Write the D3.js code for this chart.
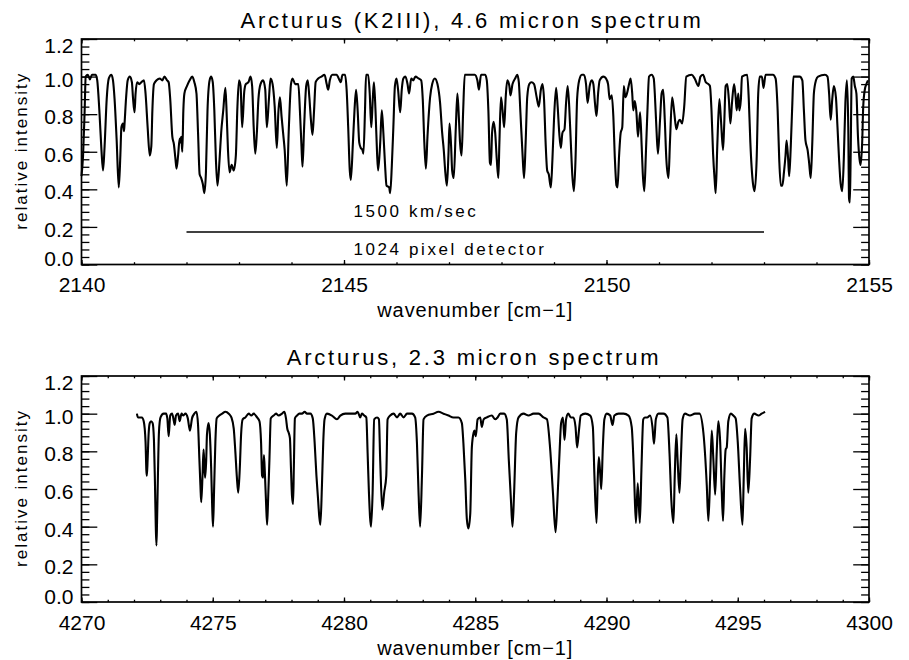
<!DOCTYPE html>
<html lang="en">
<head>
    <meta charset="UTF-8">
    <title>Arcturus spectra</title>
    <script src="https://d3js.org/d3.v7.min.js"></script>
    <style>
        body { margin: 0; background: #fff; }
        svg text { font-family: "Liberation Sans", Arial, sans-serif; fill: #000; }
    </style>
</head>
<body>
<div id="chart-container"></div>

<script>
// 4.6 micron spectrum
const topWave = [
  2140.00,2140.03,2140.06,2140.08,2140.12,2140.16,2140.20,2140.27,2140.30,2140.34,2140.38,2140.41,2140.44,2140.48,2140.52,2140.57,2140.60,2140.63,2140.67,2140.71,
  2140.74,2140.76,2140.79,2140.81,2140.82,2140.85,2140.88,2140.92,2140.96,2140.98,2141.01,2141.03,2141.06,2141.10,2141.14,2141.19,2141.22,2141.26,2141.30,2141.33,
  2141.35,2141.38,2141.43,2141.49,2141.54,2141.58,2141.63,2141.66,2141.69,2141.73,2141.76,2141.79,2141.81,2141.84,2141.87,2141.88,2141.90,2141.92,2141.94,2141.96,
  2142.01,2142.06,2142.11,2142.15,2142.19,2142.22,2142.25,2142.28,2142.31,2142.34,2142.37,2142.40,2142.44,2142.47,2142.50,2142.53,2142.56,2142.59,2142.63,2142.66,
  2142.70,2142.74,2142.76,2142.79,2142.82,2142.86,2142.90,2142.94,2142.97,2143.00,2143.03,2143.06,2143.10,2143.13,2143.18,2143.22,2143.25,2143.28,2143.31,2143.34,
  2143.37,2143.41,2143.46,2143.50,2143.53,2143.57,2143.60,2143.64,2143.68,2143.72,2143.75,2143.78,2143.81,2143.84,2143.87,2143.91,2143.95,2143.99,2144.02,2144.07,
  2144.10,2144.13,2144.16,2144.19,2144.21,2144.24,2144.28,2144.31,2144.34,2144.37,2144.40,2144.43,2144.46,2144.51,2144.57,2144.63,2144.67,2144.70,2144.73,2144.78,
  2144.86,2144.90,2144.94,2144.97,2145.02,2145.05,2145.08,2145.11,2145.13,2145.17,2145.20,2145.23,2145.26,2145.29,2145.32,2145.35,2145.37,2145.40,2145.42,2145.46,
  2145.49,2145.52,2145.55,2145.57,2145.60,2145.63,2145.65,2145.69,2145.72,2145.75,2145.78,2145.81,2145.86,2145.88,2145.91,2145.94,2145.97,2146.00,2146.03,2146.07,
  2146.10,2146.13,2146.17,2146.21,2146.24,2146.28,2146.32,2146.36,2146.42,2146.47,2146.50,2146.53,2146.56,2146.59,2146.64,2146.68,2146.73,2146.78,2146.83,2146.87,
  2146.90,2146.93,2146.96,2146.99,2147.01,2147.04,2147.06,2147.09,2147.13,2147.16,2147.19,2147.21,2147.24,2147.27,2147.30,2147.40,2147.49,2147.54,2147.57,2147.61,
  2147.69,2147.72,2147.75,2147.78,2147.80,2147.82,2147.85,2147.88,2147.91,2147.94,2147.96,2147.99,2148.02,2148.05,2148.08,2148.11,2148.15,2148.17,2148.21,2148.26,
  2148.30,2148.33,2148.36,2148.40,2148.43,2148.46,2148.49,2148.53,2148.57,2148.62,2148.67,2148.71,2148.75,2148.78,2148.81,2148.84,2148.87,2148.90,2148.94,2148.97,
  2149.00,2149.04,2149.07,2149.10,2149.13,2149.16,2149.20,2149.23,2149.26,2149.29,2149.32,2149.35,2149.38,2149.41,2149.44,2149.48,2149.53,2149.57,2149.61,2149.64,
  2149.68,2149.72,2149.75,2149.78,2149.81,2149.84,2149.87,2149.94,2149.99,2150.03,2150.06,2150.10,2150.13,2150.16,2150.19,2150.21,2150.24,2150.27,2150.30,2150.33,
  2150.36,2150.39,2150.43,2150.46,2150.49,2150.51,2150.54,2150.57,2150.60,2150.64,2150.67,2150.69,2150.72,2150.75,2150.78,2150.81,2150.86,2150.90,2150.92,2150.95,
  2150.98,2151.02,2151.05,2151.08,2151.11,2151.14,2151.18,2151.21,2151.25,2151.29,2151.33,2151.37,2151.40,2151.44,2151.48,2151.52,2151.62,2151.68,2151.75,2151.79,
  2151.84,2151.89,2151.94,2151.97,2152.00,2152.03,2152.06,2152.08,2152.11,2152.15,2152.18,2152.22,2152.24,2152.27,2152.30,2152.33,2152.36,2152.39,2152.43,2152.46,
  2152.48,2152.51,2152.53,2152.56,2152.58,2152.68,2152.71,2152.74,2152.79,2152.82,2152.86,2152.89,2152.92,2152.96,2152.99,2153.03,2153.17,2153.22,2153.26,2153.29,
  2153.32,2153.35,2153.38,2153.41,2153.43,2153.46,2153.48,2153.51,2153.54,2153.56,2153.68,2153.73,2153.76,2153.79,2153.83,2153.86,2153.89,2153.92,2153.95,2153.99,
  2154.03,2154.16,2154.21,2154.24,2154.27,2154.30,2154.33,2154.37,2154.40,2154.43,2154.46,2154.49,2154.52,2154.55,2154.58,2154.605,2154.62,2154.635,2154.65,2154.67,
  2154.70,2154.73,2154.76,2154.79,2154.82,2154.84,2154.87,2154.89,2154.92,2154.95,2154.98
];
const topFlux = [
  0.47,0.58,0.82,1.00,1.01,0.985,1.01,1.01,0.98,0.82,0.61,0.50,0.63,0.88,0.99,1.01,0.98,0.88,0.66,0.41,
  0.58,0.73,0.75,0.71,0.75,0.89,0.98,1.00,0.97,0.89,0.81,0.91,0.97,0.96,0.97,0.98,0.91,0.73,0.58,0.63,
  0.82,0.96,0.98,0.99,0.98,1.00,0.98,0.97,0.88,0.68,0.64,0.56,0.51,0.58,0.67,0.65,0.68,0.60,0.82,0.91,
  0.95,0.98,1.00,0.97,0.91,0.70,0.48,0.46,0.43,0.38,0.49,0.82,0.98,1.00,0.97,0.82,0.56,0.42,0.56,0.70,
  0.82,0.94,0.84,0.61,0.49,0.53,0.50,0.58,0.84,0.98,0.95,0.73,0.92,0.96,0.97,1.00,0.95,0.73,0.59,0.70,
  0.88,0.96,0.98,0.93,0.73,0.88,0.99,0.96,0.84,0.62,0.81,0.89,0.79,0.70,0.61,0.42,0.73,0.96,0.99,0.96,
  0.96,0.96,0.82,0.63,0.52,0.73,0.95,0.98,0.89,0.77,0.69,0.82,0.97,0.99,1.00,1.01,0.96,0.93,0.98,1.01,
  1.01,0.99,0.97,1.01,1.01,0.93,0.73,0.50,0.45,0.65,0.82,0.93,0.82,0.65,0.62,0.61,0.59,0.82,1.01,1.01,
  0.91,0.73,0.89,0.97,0.82,0.59,0.50,0.65,0.82,0.70,0.54,0.42,0.41,0.38,0.52,0.73,0.95,0.99,0.93,0.81,
  0.93,0.99,1.00,0.96,0.91,0.99,0.98,1.00,0.99,0.98,0.88,0.65,0.51,0.68,0.89,0.96,0.99,0.96,0.86,0.70,
  0.61,0.49,0.42,0.59,0.75,0.63,0.50,0.46,0.73,0.91,0.77,0.65,0.58,0.82,1.01,1.01,1.01,0.98,0.93,1.01,
  1.01,0.98,0.82,0.54,0.53,0.70,0.76,0.70,0.56,0.46,0.65,0.89,0.82,0.73,0.89,0.98,0.95,0.90,0.96,0.99,
  1.01,0.97,0.81,0.59,0.46,0.65,0.89,0.96,0.97,0.96,0.89,0.84,0.93,0.96,0.88,0.65,0.50,0.48,0.41,0.56,
  0.77,0.94,0.84,0.70,0.62,0.70,0.72,0.86,0.95,0.84,0.65,0.47,0.39,0.56,0.88,0.98,1.01,1.01,0.96,0.86,
  0.95,0.98,0.96,0.86,0.79,0.91,0.98,1.00,0.99,0.96,0.88,0.90,0.79,0.56,0.42,0.41,0.58,0.70,0.73,0.95,
  0.89,0.91,0.96,0.99,0.91,0.82,0.87,0.81,0.68,0.81,0.63,0.49,0.39,0.59,0.82,1.00,1.01,0.99,0.91,0.73,
  0.59,0.77,0.91,0.93,0.77,0.56,0.46,0.66,0.89,0.81,0.72,0.76,0.77,0.75,0.84,1.00,1.01,0.99,0.95,1.00,
  1.01,0.97,0.96,0.95,0.82,0.59,0.45,0.38,0.63,0.88,0.77,0.61,0.73,0.95,0.96,0.88,0.75,0.86,0.96,0.89,
  0.82,0.91,0.82,0.88,1.00,1.01,0.88,0.65,0.43,0.39,0.56,0.91,1.00,1.00,0.94,1.01,1.01,0.99,0.82,0.56,
  0.42,0.42,0.49,0.58,0.66,0.56,0.47,0.63,0.86,1.00,1.00,0.98,0.82,0.66,0.61,0.54,0.46,0.65,0.91,0.98,
  1.00,1.01,1.00,0.91,0.77,0.88,0.95,0.89,0.73,0.56,0.43,0.39,0.56,0.86,0.98,0.73,0.35,0.33,0.56,0.99,
  1.00,0.95,0.91,0.68,0.56,0.53,0.65,0.84,0.93,0.96,0.98
];

// 2.3 micron spectrum
const bottomWave = [
  4272.11,4272.15,4272.22,4272.30,4272.37,4272.44,4272.47,4272.49,4272.52,4272.56,4272.60,4272.65,4272.71,4272.76,4272.80,4272.83,4272.855,4272.88,4272.91,4272.95,
  4273.01,4273.13,4273.22,4273.27,4273.32,4273.38,4273.45,4273.52,4273.55,4273.60,4273.68,4273.74,4273.81,4273.87,4273.96,4274.05,4274.13,4274.21,4274.30,4274.38,
  4274.44,4274.49,4274.53,4274.56,4274.61,4274.65,4274.68,4274.71,4274.75,4274.78,4274.84,4274.89,4274.94,4274.98,4275.01,4275.05,4275.10,4275.15,4275.25,4275.36,
  4275.48,4275.61,4275.71,4275.80,4275.86,4275.92,4275.97,4276.03,4276.08,4276.14,4276.24,4276.37,4276.47,4276.56,4276.69,4276.78,4276.84,4276.88,4276.92,4276.95,
  4276.99,4277.03,4277.07,4277.11,4277.16,4277.21,4277.32,4277.41,4277.51,4277.64,4277.73,4277.79,4277.84,4277.89,4277.94,4277.98,4278.02,4278.06,4278.09,4278.13,
  4278.21,4278.30,4278.40,4278.50,4278.59,4278.72,4278.81,4278.88,4278.95,4279.01,4279.06,4279.10,4279.16,4279.21,4279.26,4279.35,4279.54,4279.73,4279.86,4280.05,
  4280.24,4280.43,4280.52,4280.62,4280.68,4280.77,4280.85,4280.90,4280.95,4281.03,4281.09,4281.15,4281.26,4281.33,4281.38,4281.46,4281.53,4281.61,4281.66,4281.76,
  4281.89,4282.02,4282.14,4282.27,4282.40,4282.59,4282.71,4282.78,4282.84,4282.90,4282.97,4283.03,4283.16,4283.41,4283.60,4283.79,4283.98,4284.17,4284.36,4284.49,
  4284.55,4284.62,4284.68,4284.74,4284.81,4284.87,4284.94,4284.97,4285.02,4285.09,4285.19,4285.25,4285.32,4285.44,4285.63,4285.76,4285.85,4285.95,4286.10,4286.20,
  4286.28,4286.36,4286.42,4286.48,4286.56,4286.65,4286.84,4287.03,4287.22,4287.41,4287.60,4287.73,4287.85,4287.96,4288.06,4288.13,4288.21,4288.27,4288.34,4288.40,
  4288.46,4288.54,4288.64,4288.74,4288.82,4288.88,4288.95,4289.02,4289.19,4289.38,4289.48,4289.54,4289.62,4289.67,4289.71,4289.76,4289.80,4289.86,4289.92,4290.01,
  4290.14,4290.23,4290.30,4290.46,4290.65,4290.84,4290.96,4291.05,4291.12,4291.19,4291.27,4291.33,4291.40,4291.46,4291.55,4291.66,4291.75,4291.81,4291.88,4291.98,
  4292.17,4292.32,4292.40,4292.47,4292.55,4292.60,4292.66,4292.71,4292.78,4292.83,4292.90,4292.99,4293.18,4293.37,4293.54,4293.69,4293.82,4293.88,4293.95,4294.01,
  4294.07,4294.14,4294.20,4294.26,4294.33,4294.39,4294.44,4294.49,4294.54,4294.58,4294.64,4294.74,4294.83,4294.92,4295.00,4295.09,4295.18,4295.23,4295.28,4295.34,
  4295.40,4295.47,4295.53,4295.63,4295.79,4295.91,4296.04
];
const bottomFlux = [
  1.00,0.98,0.98,0.98,0.96,0.85,0.70,0.67,0.76,0.90,0.95,0.96,0.95,0.86,0.62,0.40,0.30,0.44,0.66,0.90,
  0.98,1.00,1.00,0.975,0.88,0.99,1.00,0.96,0.94,0.99,1.00,0.96,1.00,0.99,1.00,0.975,0.91,0.975,1.00,1.01,
  0.94,0.76,0.62,0.53,0.67,0.81,0.73,0.66,0.75,0.89,0.95,0.89,0.71,0.50,0.40,0.59,0.85,0.975,0.99,1.00,
  1.01,1.00,0.98,0.92,0.80,0.66,0.58,0.71,0.89,0.97,0.98,1.00,0.99,1.00,0.98,0.96,0.85,0.67,0.66,0.78,
  0.67,0.53,0.41,0.55,0.76,0.975,0.99,1.00,0.99,1.00,1.01,0.975,0.92,0.90,0.87,0.71,0.56,0.52,0.72,0.975,
  0.99,1.00,1.00,1.01,1.00,1.00,0.975,0.85,0.67,0.55,0.45,0.41,0.62,0.85,0.97,1.00,0.99,0.97,0.99,1.00,
  1.00,1.00,1.01,0.98,1.00,0.99,0.98,0.79,0.58,0.40,0.58,0.97,0.98,0.97,0.75,0.49,0.58,0.67,0.97,0.99,
  1.00,0.98,1.00,0.98,1.00,1.00,0.98,0.84,0.58,0.40,0.67,0.97,0.99,1.00,1.01,1.00,0.99,0.98,0.98,0.95,
  0.84,0.65,0.44,0.39,0.47,0.82,0.90,0.91,0.88,0.97,0.98,0.93,0.97,0.98,0.99,0.97,0.98,1.00,1.00,0.97,
  0.75,0.54,0.40,0.58,0.90,0.98,1.00,0.99,1.00,1.00,0.98,0.97,0.82,0.58,0.37,0.54,0.79,0.95,0.98,0.86,
  0.97,1.00,0.98,0.98,0.93,0.82,0.91,0.99,1.00,0.99,0.93,0.67,0.42,0.67,0.77,0.68,0.60,0.82,0.97,1.00,
  0.99,0.94,0.99,1.00,1.00,0.99,0.93,0.67,0.42,0.63,0.42,0.70,0.97,0.98,0.98,0.99,0.93,0.84,0.97,1.00,
  1.00,0.98,0.79,0.54,0.42,0.67,0.89,0.75,0.58,0.75,0.97,1.00,0.99,1.00,1.00,0.90,0.62,0.43,0.67,0.91,
  0.76,0.57,0.80,0.96,0.85,0.59,0.43,0.67,0.81,0.82,0.96,1.00,0.99,0.975,0.85,0.60,0.41,0.67,0.92,0.82,
  0.58,0.76,0.975,1.00,0.99,1.00,1.01
];

const topTicks = [2140, 2145, 2150, 2155];
const bottomTicks = [4270, 4275, 4280, 4285, 4290, 4295, 4300];
const yTicks = [0.0, 0.2, 0.4, 0.6, 0.8, 1.0, 1.2];

const width = 909;
const height = 660;
const left = 81.5, right = 869;

const svg = d3.select('#chart-container')
    .append('svg')
    .attr('width', width)
    .attr('height', height);

function drawPanel(p) {
    const x = d3.scaleLinear().domain(p.xDomain).range([left, right]);
    const y = d3.scaleLinear().domain([0, 1.2]).range([p.bottom, p.top]);
    const g = svg.append('g');
    const w = right - left, h = p.bottom - p.top;
    const xMinor = d3.range(p.xDomain[0], p.xDomain[1] + 0.001, 1);
    const yMinor = d3.range(0, 1.2001, 0.04);

    // bottom axis with labels
    g.append('g')
        .attr('transform', `translate(0, ${p.bottom})`)
        .call(d3.axisBottom(x).tickValues(p.ticks).tickSize(-4.5).tickPadding(13).tickFormat(d3.format('d')))
        .call(a => a.selectAll('text').style('font-size', '21px').attr('font-family', null));
    g.append('g')
        .attr('transform', `translate(0, ${p.bottom})`)
        .call(d3.axisBottom(x).tickValues(xMinor).tickSize(-2.3).tickFormat(''));
    // top axis
    g.append('g')
        .attr('transform', `translate(0, ${p.top})`)
        .call(d3.axisTop(x).tickValues(p.ticks).tickSize(-4.5).tickFormat(''));
    g.append('g')
        .attr('transform', `translate(0, ${p.top})`)
        .call(d3.axisTop(x).tickValues(xMinor).tickSize(-2.3).tickFormat(''));

    // left axis with labels
    g.append('g')
        .attr('transform', `translate(${left}, 0)`)
        .call(d3.axisLeft(y).tickValues(yTicks).tickSize(-15.8).tickPadding(8).tickFormat(d3.format('.1f')))
        .call(a => a.selectAll('text')
            .style('font-size', '21px')
            .attr('dy', d => d === 0 ? '1px' : (d === 1.2 ? '13.5px' : '9.5px')));
    g.append('g')
        .attr('transform', `translate(${left}, 0)`)
        .call(d3.axisLeft(y).tickValues(yMinor).tickSize(-7.9).tickFormat(''));
    // right axis
    g.append('g')
        .attr('transform', `translate(${right}, 0)`)
        .call(d3.axisRight(y).tickValues(yTicks).tickSize(-15.8).tickFormat(''));
    g.append('g')
        .attr('transform', `translate(${right}, 0)`)
        .call(d3.axisRight(y).tickValues(yMinor).tickSize(-7.9).tickFormat(''));

    g.selectAll('.domain').remove();
    g.selectAll('.tick line').attr('stroke', '#000').attr('stroke-width', 1.3);

    g.append('rect')
        .attr('x', left).attr('y', p.top)
        .attr('width', w).attr('height', h)
        .attr('fill', 'none').attr('stroke', '#000').attr('stroke-width', 1.7);

    // spectrum
    const pts = p.wave.map((d, i) => [d, p.flux[i]]);
    g.append('path')
        .datum(pts)
        .attr('fill', 'none')
        .attr('stroke', '#000')
        .attr('stroke-width', 2.1)
        .attr('stroke-linejoin', 'round')
        .attr('d', d3.line().x(d => x(d[0])).y(d => y(d[1])).curve(d3.curveMonotoneX));

    // titles
    g.append('text')
        .attr('x', p.titleX).attr('y', p.top - 11)
        .attr('text-anchor', 'middle')
        .style('font-size', '22px').style('letter-spacing', '2.8px')
        .text(p.title);
    g.append('text')
        .attr('x', (left + right) / 2).attr('y', p.bottom + 52.5)
        .attr('text-anchor', 'middle')
        .style('font-size', '20px').style('letter-spacing', '0.9px')
        .text('wavenumber [cm\u22121]');
    g.append('text')
        .attr('transform', `translate(27, ${(p.top + p.bottom) / 2 - 1}) rotate(-90)`)
        .attr('text-anchor', 'middle')
        .style('font-size', '17px').style('letter-spacing', '2px')
        .text('relative intensity');

    return { x, y, g };
}

const topPanel = drawPanel({
    top: 39, bottom: 264.5, xDomain: [2140, 2155], ticks: topTicks,
    wave: topWave, flux: topFlux, titleX: 472,
    title: 'Arcturus (K2III), 4.6 micron spectrum'
});

drawPanel({
    top: 376, bottom: 602, xDomain: [4270, 4300], ticks: bottomTicks,
    wave: bottomWave, flux: bottomFlux, titleX: 474,
    title: 'Arcturus, 2.3 micron spectrum'
});

// detector coverage bar in the top panel
const barRange = [2142, 2153];
const barLevel = 0.173;
topPanel.g.append('line')
    .attr('x1', topPanel.x(barRange[0])).attr('x2', topPanel.x(barRange[1]))
    .attr('y1', topPanel.y(barLevel)).attr('y2', topPanel.y(barLevel))
    .attr('stroke', '#000').attr('stroke-width', 1.3);
topPanel.g.append('text')
    .attr('x', topPanel.x(2145.18)).attr('y', topPanel.y(0.252))
    .style('font-size', '17px').style('letter-spacing', '2.6px')
    .text('1500 km/sec');
topPanel.g.append('text')
    .attr('x', topPanel.x(2145.18)).attr('y', topPanel.y(0.05))
    .style('font-size', '17px').style('letter-spacing', '2.6px')
    .text('1024 pixel detector');
</script>
</body>
</html>
